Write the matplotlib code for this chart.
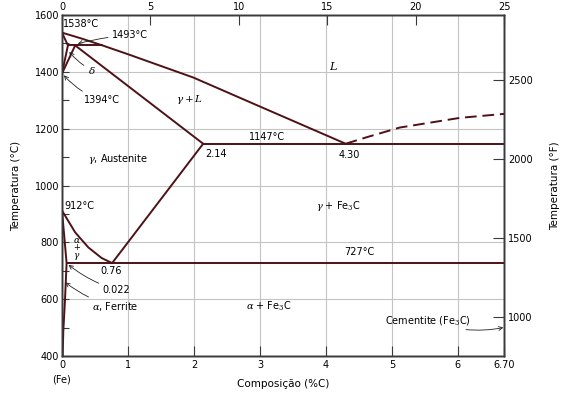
import numpy as np
import matplotlib
matplotlib.use('Agg')
import matplotlib.pyplot as plt

plt.rcParams['font.family'] = ['DejaVu Sans']
plt.rcParams['font.size'] = 7
plt.rcParams['mathtext.fontset'] = 'dejavuserif'

# Phase boundaries (wt% C, deg C)
liquidus_x = [0, 0.3, 0.6, 1.0, 1.99, 3.0, 4.30]
liquidus_t = [1538, 1517, 1494, 1462, 1380, 1278, 1147]
liq_dash_x = [4.30, 4.62, 5.12, 6.03, 6.70]
liq_dash_t = [1147, 1170, 1204, 1238, 1252]
delta_x = [0, 0.09, 0]
delta_t = [1538, 1493, 1394]
gamma_delta_x = [0, 0.2]
gamma_delta_t = [1394, 1493]
peritectic_x = [0.09, 0.6]
peritectic_t = [1493, 1493]
solidus_x = [0.2, 2.14]
solidus_t = [1493, 1147]
eutectic_x = [2.14, 6.70]
eutectic_t = [1147, 1147]
acm_x = [0.76, 2.14]
acm_t = [727, 1147]
a3_x = [0, 0.2, 0.4, 0.6, 0.76]
a3_t = [912, 835, 782, 745, 727]
alpha_x = [0, 0.035, 0.07, 0.045, 0.02, 0.01]
alpha_t = [912, 820, 727, 594, 488, 400]
eutectoid_x = [0.07, 6.70]
eutectoid_t = [727, 727]

bottom_ticks = [0, 1, 2, 3, 4, 5, 6, 6.70]
bottom_labels = ['0', '1', '2', '3', '4', '5', '6', '6.70']
top_ticks = [0, 5, 10, 15, 20, 25]
left_ticks = [400, 600, 800, 1000, 1200, 1400, 1600]
right_ticks = [1000, 1500, 2000, 2500]

line_c = '#4d1216'
spine_c = '#3a3a3a'

fig = plt.figure(figsize=(5.66, 3.98), dpi=100)
ax = fig.add_axes([0.1095, 0.1055, 0.781, 0.8568])
ax.set_xlim(0, 6.70)
ax.set_ylim(400, 1600)

# grid
for gx in [1, 2, 3, 4, 5, 6]:
    ax.axvline(gx, color='#c4c4c4', lw=0.8, zorder=0)
for gy in [600, 800, 1000, 1200, 1400]:
    ax.axhline(gy, color='#c4c4c4', lw=0.8, zorder=0)

kw = dict(color=line_c, lw=1.4, solid_capstyle='round', solid_joinstyle='round', zorder=3)
ax.plot(liquidus_x, liquidus_t, **kw)
ax.plot(liq_dash_x, liq_dash_t, color=line_c, lw=1.4, ls=(0, (6, 3)), zorder=3)
ax.plot(delta_x, delta_t, **kw)
ax.plot(gamma_delta_x, gamma_delta_t, **kw)
ax.plot(peritectic_x, peritectic_t, **kw)
ax.plot(solidus_x, solidus_t, **kw)
ax.plot(eutectic_x, eutectic_t, **kw)
ax.plot(acm_x, acm_t, **kw)
ax.plot(a3_x, a3_t, **kw)
ax.plot(alpha_x, alpha_t, **kw)
ax.plot(eutectoid_x, eutectoid_t, **kw)

for s in ax.spines.values():
    s.set_color(spine_c)
    s.set_linewidth(1.0)

ax.set_xticks(bottom_ticks)
ax.set_xticklabels(bottom_labels)
ax.set_yticks(left_ticks)
ax.set_yticks([500, 700, 900, 1100, 1300, 1500], minor=True)
ax.tick_params(axis='x', direction='in', length=7, width=0.8, color=spine_c, pad=3)
ax.tick_params(axis='y', which='major', direction='in', length=5, width=0.8, color=spine_c, pad=2)
ax.tick_params(axis='y', which='minor', direction='in', length=5, width=0.8, color=spine_c)
ax.set_ylabel('Temperatura (°C)', fontsize=7.5, labelpad=10)
ax.set_xlabel('Composição (%C)', fontsize=7.5, labelpad=6)
ax.text(0, 319, '(Fe)', ha='center', va='center', fontsize=7)

# top axis (linear 0-25)
axt = ax.twiny()
axt.set_xlim(0, 25)
axt.set_xticks(top_ticks)
axt.tick_params(axis='x', direction='in', length=7, width=0.8, color=spine_c, pad=2)

# right axis in deg F
axr = ax.twinx()
axr.set_ylim(400 * 1.8 + 32, 1600 * 1.8 + 32)
axr.set_yticks(right_ticks)
axr.tick_params(axis='y', direction='in', length=8, width=0.8, color=spine_c, pad=3)
axr.set_ylabel('Temperatura (°F)', fontsize=7.5, labelpad=12)
for a in (axt, axr):
    for s in a.spines.values():
        s.set_color(spine_c)
        s.set_linewidth(1.0)

# labels
ax.text(0.02, 1568, '1538°C', ha='left', va='center')
ax.text(0.04, 929, '912°C', ha='left', va='center')
ax.text(1.93, 1302, r'$\gamma + L$', ha='center', va='center', fontsize=7.5)
ax.text(4.11, 1421, r'$L$', ha='center', va='center', fontsize=8)
ax.text(3.11, 1172, '1147°C', ha='center', va='center')
ax.text(2.17, 1110, '2.14', ha='left', va='center')
ax.text(4.35, 1109, '4.30', ha='center', va='center')
ax.text(0.85, 1092, r'$\gamma$, Austenite', ha='center', va='center', fontsize=7)
ax.text(4.19, 929, r'$\gamma$ + Fe$_3$C', ha='center', va='center', fontsize=7)
ax.text(4.5, 767, '727°C', ha='center', va='center')
ax.text(0.74, 700, '0.76', ha='center', va='center')
ax.text(0.22, 808, r'$\alpha$', ha='center', va='center', fontsize=6.5)
ax.text(0.22, 781, '+', ha='center', va='center', fontsize=6)
ax.text(0.22, 750, r'$\gamma$', ha='center', va='center', fontsize=6.5)
ax.text(3.13, 576, r'$\alpha$ + Fe$_3$C', ha='center', va='center', fontsize=7)

arw = dict(arrowstyle='->', lw=0.6, color='#222222', shrinkA=1, shrinkB=0)
ax.annotate('1493°C', xy=(0.24, 1499), xytext=(0.76, 1529), ha='left', va='center',
            arrowprops=dict(arw, connectionstyle='arc3,rad=0.05'))
ax.annotate(r'$\delta$', xy=(0.11, 1470), xytext=(0.45, 1406), ha='center', va='center',
            fontsize=7.5, arrowprops=dict(arw, connectionstyle='arc3,rad=-0.1'))
ax.annotate('1394°C', xy=(0.03, 1388), xytext=(0.6, 1302), ha='center', va='center',
            arrowprops=dict(arw, connectionstyle='arc3,rad=-0.15'))
ax.annotate('0.022', xy=(0.1, 721), xytext=(0.83, 633), ha='center', va='center',
            arrowprops=dict(arw, connectionstyle='arc3,rad=-0.1'))
ax.annotate(r'$\alpha$, Ferrite', xy=(0.05, 659), xytext=(0.8, 573), ha='center', va='center',
            arrowprops=dict(arw, connectionstyle='arc3,rad=-0.1'))
ax.annotate('Cementite (Fe$_3$C)', xy=(6.69, 500), xytext=(5.55, 526), ha='center', va='center',
            arrowprops=dict(arw, connectionstyle='arc3,rad=0.15'))

fig.savefig('out.png', dpi=100)
